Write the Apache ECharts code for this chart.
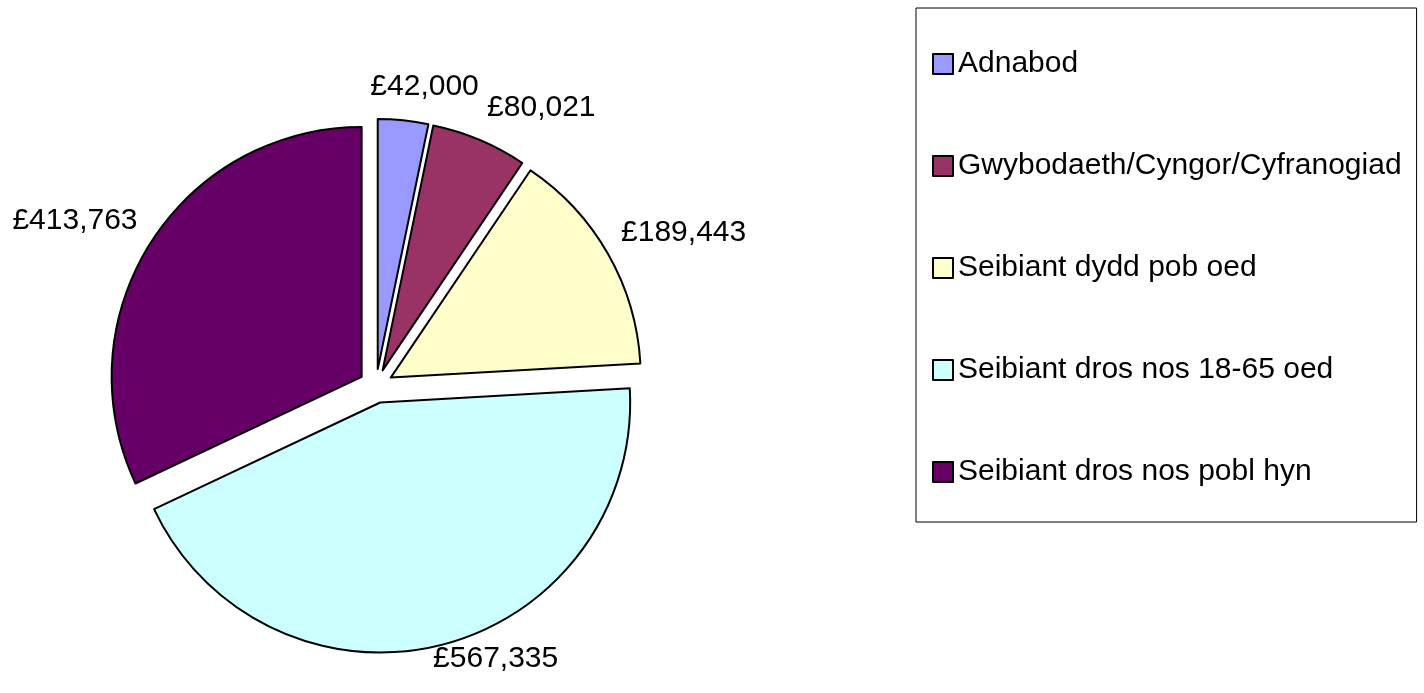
<!DOCTYPE html>
<html>
<head>
<meta charset="utf-8">
<title>Pie</title>
<script src="https://cdn.jsdelivr.net/npm/echarts@6/dist/echarts.min.js"></script>
<style>
  html, body { margin: 0; padding: 0; background: #fff; }
  #chart { width: 1424px; height: 693px; }
</style>
</head>
<body>
<div id="chart"></div>
<script>
  // data
  const categories = [
    'Adnabod',
    'Gwybodaeth/Cyngor/Cyfranogiad',
    'Seibiant dydd pob oed',
    'Seibiant dros nos 18-65 oed',
    'Seibiant dros nos pobl hyn'
  ];
  const values = [42000, 80021, 189443, 567335, 413763];
  const colors = ['#9999FF', '#993366', '#FFFFCC', '#CCFFFF', '#660066'];

  // pie geometry
  const cx = 376, cy = 386, radius = 250, offset = 17;
  const font = 'Liberation Sans, Arial, sans-serif';
  const fontSize = 30;
  const labelHeight = 28;

  const total = values.reduce((s, v) => s + v, 0);

  // angle (clockwise from 12 o'clock) at the middle of slice i
  const midAngle = (i) => {
    let before = 0;
    for (let k = 0; k < i; k++) before += values[k];
    return 2 * Math.PI * (before + values[i] / 2) / total;
  };

  const money = (v) => '£' + v.toString().replace(/\B(?=(\d{3})+(?!\d))/g, ',');
  const clamp = (v) => Math.max(-1, Math.min(1, v));

  // text width of a label
  const measure = document.createElement('canvas').getContext('2d');
  measure.font = fontSize + 'px ' + font;
  const textWidth = (s) => measure.measureText(s).width;

  // value labels: box corner just outside the exploded slice, like the original
  const valueLabels = values.map((v, i) => {
    const a = midAngle(i);
    const dx = Math.sin(a), dy = -Math.cos(a);
    const r = radius + offset + 10 - 10 * dy;
    const text = money(v);
    return {
      type: 'text',
      z: 100,
      x: cx + dx * r + clamp(dx * 3.5) * textWidth(text) / 2,
      y: cy + dy * r + Math.sign(dy) * labelHeight / 2,
      style: {
        text: text,
        font: fontSize + 'px ' + font,
        fill: '#000',
        align: 'center',
        verticalAlign: 'middle',
        textAlign: 'center',
        textVerticalAlign: 'middle'
      }
    };
  });

  const chart = echarts.init(document.getElementById('chart'));

  chart.setOption({
    animation: false,
    legend: {
      orient: 'vertical',
      left: 916,
      top: 8,
      icon: 'rect',
      itemWidth: 20,
      itemHeight: 20,
      itemGap: 72,
      padding: [41, 15, 35, 16],
      borderColor: '#000',
      borderWidth: 1,
      selectedMode: false,
      textStyle: { fontFamily: font, fontSize: fontSize, color: '#000' },
      data: categories
    },
    graphic: valueLabels,
    series: [{
      type: 'pie',
      center: [cx, cy],
      radius: radius,
      startAngle: 90,
      clockwise: true,
      selectedMode: 'multiple',
      selectedOffset: offset,
      emphasis: { disabled: true },
      itemStyle: { borderColor: '#000', borderWidth: 2 },
      label: { show: false },
      labelLine: { show: false },
      data: categories.map((name, i) => ({
        name: name,
        value: values[i],
        selected: true,
        itemStyle: { color: colors[i] }
      }))
    }]
  });
</script>
</body>
</html>
